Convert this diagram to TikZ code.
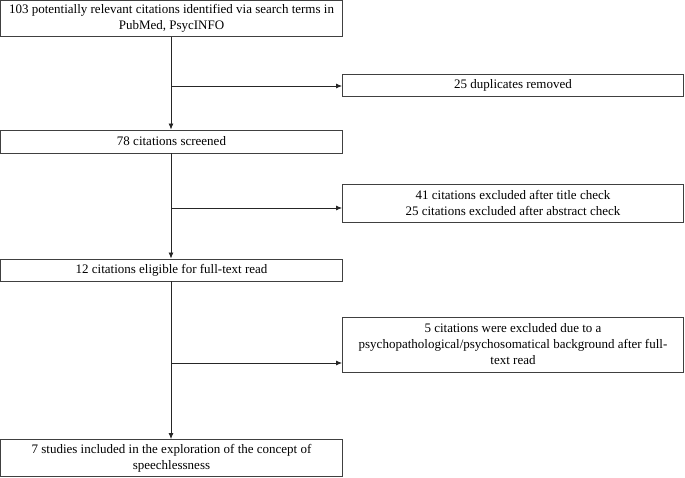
\documentclass[tikz,border=0pt]{standalone}
\usepackage{fontspec}
\setmainfont{Liberation Serif}
\usetikzlibrary{arrows.meta}
\begin{document}
\begin{tikzpicture}[x=1pt,y=1pt,
  box/.style={draw=black!75, line width=0.9pt, rectangle, align=flush center, inner sep=2pt, font=\fontsize{13}{16}\selectfont},
  lbox/.style={box, minimum width=342pt, text width=338pt},
  rbox/.style={box, minimum width=341pt, text width=337pt},
  conn/.style={draw=black!85, line width=0.8pt, -{Latex[length=6pt,width=5pt]}}]
\useasboundingbox (0,0) rectangle (685,-477);
\node[lbox, minimum height=36pt] (b1) at (171.5,-18.5) {103 potentially relevant citations identified via search terms in\\PubMed, PsycINFO};
\node[rbox, minimum height=22pt] (d1) at (513,-85) {25 duplicates removed};
\node[lbox, minimum height=23pt] (b2) at (171.5,-141.5) {78 citations screened};
\node[rbox, minimum height=38pt] (d2) at (513,-203) {41 citations excluded after title check\\25 citations excluded after abstract check};
\node[lbox, minimum height=22pt] (b3) at (171.5,-270) {12 citations eligible for full-text read};
\node[rbox, minimum height=55pt] (d3) at (513,-344.5) {5 citations were excluded due to a\\psychopathological/psychosomatical background after full-\\text read};
\node[lbox, minimum height=37pt] (b4) at (171.5,-458) {7 studies included in the exploration of the concept of\\speechlessness};
\coordinate (c1) at (171,-86);
\coordinate (c2) at (171,-208);
\coordinate (c3) at (171,-363);
\draw[conn] (b1.south -| c1) -- (b2.north -| c1);
\draw[conn] (b2.south -| c2) -- (b3.north -| c2);
\draw[conn] (b3.south -| c3) -- (b4.north -| c3);
\draw[conn] (c1) -- (c1 -| d1.west);
\draw[conn] (c2) -- (c2 -| d2.west);
\draw[conn] (c3) -- (c3 -| d3.west);
\end{tikzpicture}
\end{document}
